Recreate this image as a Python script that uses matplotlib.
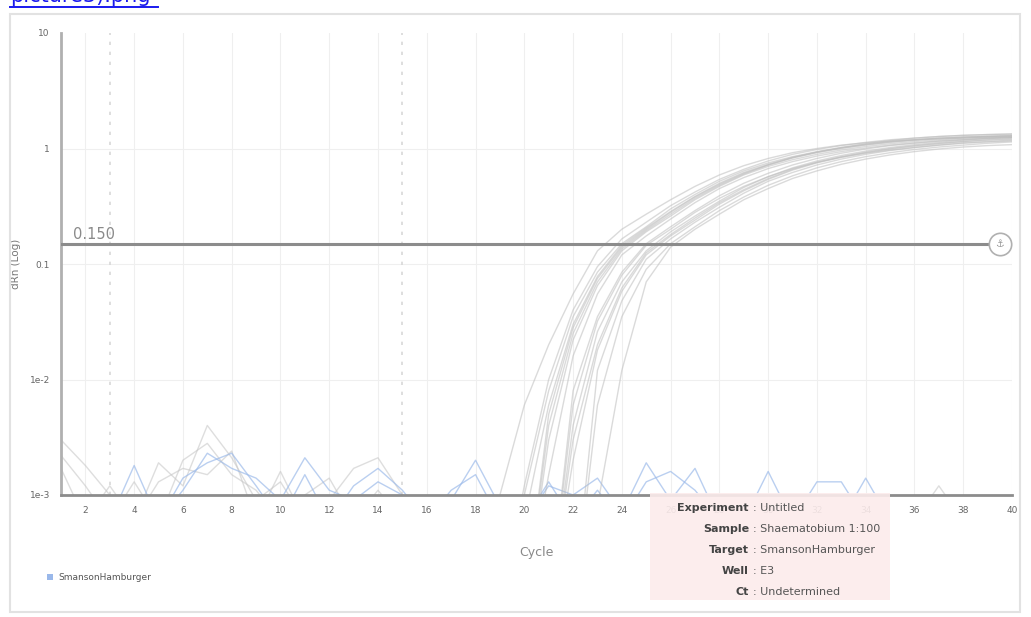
import matplotlib.pyplot as plt
from matplotlib.patches import Rectangle
from matplotlib.lines import Line2D

W, H = 1031, 617

# amplification wells (gray), dRn per cycle from cycle 18 to 40
amp_cycles = list(range(18, 41))
amp_curves = [
    [1e-4, .001, .006, .02, .055, .13, .20, .27, .36, .47, .59, .71, .82, .92, 1.00, 1.07, 1.12, 1.16, 1.19, 1.21, 1.23, 1.25, 1.26],
    [1e-4, 1e-4, .0012, .010, .040, .095, .165, .23, .32, .42, .54, .66, .78, .89, .98, 1.06, 1.13, 1.19, 1.23, 1.27, 1.30, 1.32, 1.33],
    [1e-4, 1e-4, .001, .008, .035, .085, .15, .21, .30, .40, .52, .64, .75, .85, .94, 1.02, 1.09, 1.15, 1.19, 1.23, 1.26, 1.28, 1.30],
    [1e-4, 1e-4, 1e-4, .005, .028, .075, .14, .20, .28, .38, .49, .61, .72, .83, .92, 1.00, 1.07, 1.13, 1.18, 1.22, 1.25, 1.27, 1.29],
    [1e-4, 1e-4, 1e-4, .003, .022, .065, .13, .19, .26, .36, .47, .59, .70, .80, .89, .97, 1.04, 1.10, 1.15, 1.19, 1.23, 1.26, 1.28],
    [1e-4, 1e-4, 1e-4, .0015, .016, .055, .12, .175, .245, .34, .45, .56, .67, .77, .86, .94, 1.01, 1.07, 1.12, 1.16, 1.20, 1.23, 1.25],
    [1e-4, 1e-4, 1e-4, 1e-4, .008, .035, .085, .15, .21, .29, .39, .50, .61, .72, .82, .91, .99, 1.06, 1.11, 1.16, 1.19, 1.22, 1.24],
    [1e-4, 1e-4, 1e-4, 1e-4, .006, .032, .08, .145, .20, .28, .37, .47, .57, .67, .76, .84, .91, .97, 1.02, 1.07, 1.11, 1.14, 1.16],
    [1e-4, 1e-4, 1e-4, 1e-4, .004, .026, .07, .13, .19, .26, .35, .46, .57, .68, .78, .87, .95, 1.02, 1.08, 1.13, 1.18, 1.22, 1.25],
    [1e-4, 1e-4, 1e-4, 1e-4, .002, .018, .058, .12, .175, .24, .33, .43, .54, .65, .75, .84, .92, .99, 1.05, 1.10, 1.15, 1.19, 1.22],
    [1e-4, 1e-4, 1e-4, 1e-4, 1e-4, .012, .048, .11, .165, .23, .31, .41, .52, .62, .72, .81, .89, .96, 1.02, 1.07, 1.12, 1.15, 1.18],
    [1e-4, 1e-4, 1e-4, 1e-4, 1e-4, .006, .035, .09, .15, .21, .29, .38, .48, .58, .68, .77, .85, .92, .98, 1.03, 1.07, 1.11, 1.14],
    [1e-4, 1e-4, 1e-4, 1e-4, 1e-4, .0008, .012, .07, .14, .20, .27, .36, .45, .55, .64, .73, .81, .88, .94, .99, 1.03, 1.06, 1.08],
    [1e-4, 1e-4, 1e-4, .004, .025, .07, .135, .195, .27, .37, .48, .60, .72, .83, .93, 1.02, 1.10, 1.17, 1.23, 1.27, 1.30, 1.32, 1.34],
    [1e-4, 1e-4, 1e-4, 1e-4, .003, .02, .062, .125, .18, .25, .34, .44, .55, .66, .76, .85, .93, 1.00, 1.06, 1.11, 1.15, 1.18, 1.20],
    [1e-4, 1e-4, .0006, .006, .03, .078, .145, .205, .285, .385, .50, .62, .73, .84, .93, 1.01, 1.08, 1.14, 1.19, 1.23, 1.25, 1.27, 1.28],
]

# baseline noise, cycles 1..40
noise_cycles = list(range(1, 41))
blue_noise = [
    [.0006, .0006, .0006, .0018, .0006, .0011, .0023, .0017, .0014, .0009,
     .0021, .0011, .0009, .0013, .0010, .0008, .0009, .0020, .0008, .0006,
     .0012, .0010, .0014, .0007, .0019, .0009, .0017, .0006, .0006, .0016,
     .0006, .0013, .0013, .0006, .0006, .0006, .0006, .0006, .0006, .0006],
    [.0006, .0006, .0006, .0006, .0006, .0014, .0019, .0023, .0012, .0006,
     .0015, .0006, .0012, .0017, .0011, .0006, .0011, .0015, .0006, .0006,
     .0013, .0006, .0011, .0006, .0013, .0016, .0011, .0006, .0006, .0006,
     .0006, .0006, .0006, .0014, .0006, .0006, .0006, .0006, .0006, .0006],
]
gray_noise = [
    [.0030, .0018, .0010, .0006, .0019, .0012, .0040, .0021, .0009, .0013,
     .0006, .0009, .0017, .0021, .0010, .0006, .0006, .0006, .0006, .0006,
     .0006, .0006, .0006, .0006, .0006, .0006, .0006, .0006, .0006, .0006,
     .0006, .0006, .0006, .0006, .0006, .0006, .0006, .0006, .0006, .0006],
    [.0022, .0012, .0006, .0013, .0006, .0020, .0028, .0015, .0011, .0006,
     .0010, .0014, .0006, .0011, .0006, .0006, .0006, .0006, .0006, .0006,
     .0006, .0006, .0006, .0006, .0006, .0006, .0006, .0006, .0006, .0006,
     .0006, .0006, .0006, .0006, .0006, .0006, .0012, .0006, .0006, .0006],
    [.0017, .0006, .0012, .0006, .0013, .0017, .0015, .0024, .0006, .0016,
     .0006, .0006, .0006, .0006, .0006, .0006, .0006, .0006, .0006, .0006,
     .0006, .0006, .0006, .0006, .0006, .0006, .0006, .0006, .0006, .0006,
     .0006, .0006, .0006, .0006, .0006, .0006, .0006, .0006, .0006, .0006],
]

threshold = 0.150
baseline_marks = [3, 15]
x_ticks = list(range(2, 41, 2))
y_ticks = [1e-3, 1e-2, 0.1, 1, 10]
y_ticklabels = ["1e-3", "1e-2", "0.1", "1", "10"]

tooltip = [("Experiment", "Untitled"),
           ("Sample", "Shaematobium 1:100"),
           ("Target", "SmansonHamburger"),
           ("Well", "E3"),
           ("Ct", "Undetermined")]


def fx(x):
    return x / W


def fy(y):
    return 1 - y / H


fig = plt.figure(figsize=(W / 100, H / 100), dpi=100)
ax = fig.add_axes([fx(61), fy(495), fx(1012) - fx(61), fy(33) - fy(495)])
ax.set_yscale("log")
ax.set_xlim(1, 40)
ax.set_ylim(1e-3, 10)

# light grid
for t in x_ticks:
    ax.axvline(t, color="#efefef", lw=0.8, zorder=0)
for t in [1e-2, 0.1, 1]:
    ax.axhline(t, color="#efefef", lw=0.8, zorder=0)
for c in baseline_marks:
    ax.axvline(c, color="#d8d8d8", lw=1.2, ls=(0, (2, 4)), zorder=0)

for vals in gray_noise:
    ax.plot(noise_cycles, vals, color="#c8c8c8", lw=1, alpha=0.6, zorder=2)
for vals in blue_noise:
    ax.plot(noise_cycles, vals, color="#9dbbea", lw=1, alpha=0.7, zorder=2)
for vals in amp_curves:
    ax.plot(amp_cycles, vals, color="#bdbdbd", lw=1, alpha=0.55, zorder=2)

# threshold line with its drag handle
ax.axhline(threshold, color="#8c8c8c", lw=2.2, zorder=3)
ax.text(1.5, threshold * 1.04, "%.3f" % threshold, color="#8a8a8a",
        fontsize=10.5, va="bottom", ha="left")
ax.scatter([39.5], [threshold], s=260, facecolor="white", edgecolor="#b0b0b0",
           lw=1.2, zorder=5, clip_on=False)
ax.text(39.5, threshold, "\u2693", fontsize=7, color="#999999",
        ha="center", va="center", zorder=6)

ax.set_xticks(x_ticks)
ax.set_xticklabels([str(t) for t in x_ticks])
ax.set_yticks(y_ticks)
ax.set_yticklabels(y_ticklabels)
ax.minorticks_off()
ax.tick_params(axis="both", length=0, labelsize=6.5, colors="#666666")
ax.tick_params(axis="x", pad=8)
ax.tick_params(axis="y", pad=8)
for s in ["top", "right"]:
    ax.spines[s].set_visible(False)
ax.spines["left"].set_color("#b0b0b0")
ax.spines["left"].set_linewidth(2)
ax.spines["bottom"].set_color("#8c8c8c")
ax.spines["bottom"].set_linewidth(2)
ax.set_ylabel("dRn (Log)", fontsize=7.5, color="#777777", labelpad=6)
ax.set_xlabel("Cycle", fontsize=9, color="#888888", labelpad=22)

# page frame
fig.add_artist(Rectangle((fx(10), fy(612)), fx(1020) - fx(10), fy(14) - fy(612),
                         transform=fig.transFigure, fill=False,
                         edgecolor="#e2e2e2", lw=1.5))

# file link at the top edge
fig.text(fx(10), fy(-4), "picture3).png", color="#1a1aee", fontsize=15,
         ha="left", va="center")
fig.add_artist(Line2D([fx(10), fx(158)], [fy(7), fy(7)], color="#1a1aee",
                      lw=1.4, transform=fig.transFigure))

# legend
fig.add_artist(Rectangle((fx(47), fy(580)), fx(6), 6 / H, transform=fig.transFigure,
                         facecolor="#9ab8ea", edgecolor="none"))
fig.text(fx(58), fy(577), "SmansonHamburger", fontsize=6.5, color="#555555",
         ha="left", va="center")

# hover tooltip
fig.add_artist(Rectangle((fx(650), fy(600)), fx(890) - fx(650), fy(493) - fy(600),
                         transform=fig.transFigure, facecolor="#fcecec",
                         edgecolor="none", alpha=0.9, zorder=10))
for i, (k, v) in enumerate(tooltip):
    y = fy(508 + 21 * i)
    fig.text(fx(749), y, k, fontsize=8, fontweight="bold", color="#444444",
             ha="right", va="center", zorder=11)
    fig.text(fx(753), y, ": " + v, fontsize=8, color="#555555",
             ha="left", va="center", zorder=11)

fig.savefig("out.png", dpi=100)
